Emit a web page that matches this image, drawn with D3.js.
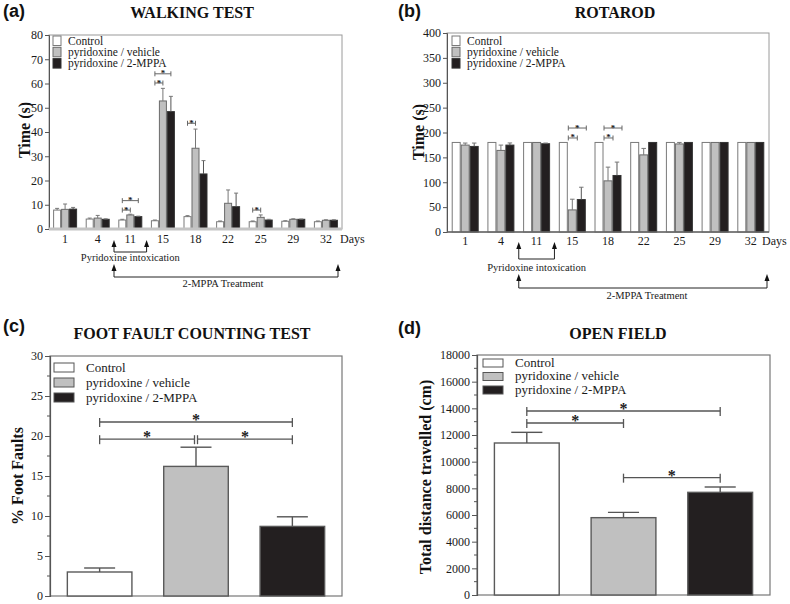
<!DOCTYPE html>
<html><head><meta charset="utf-8">
<script src="https://cdn.jsdelivr.net/npm/d3@7"></script>
<style>body{margin:0;background:#fff}svg{display:block}</style>
</head><body>
<svg id="chart" width="790" height="604"></svg>
<script>
// ---------- DATA ----------
const days = ["1","4","11","15","18","22","25","29","32"];
const seriesNames = ["Control","pyridoxine / vehicle","pyridoxine / 2-MPPA"];

// (a) Walking test, time (s): mean and SEM
const walkControl     = [7.8, 4.1, 3.7, 3.4, 5.1, 3.0, 3.0, 3.2, 3.0];
const walkControlSem  = [0.7, 0.4, 0.3, 0.3, 0.4, 0.3, 0.3, 0.2, 0.3];
const walkVehicle     = [8.1, 4.5, 5.8, 52.8, 33.3, 10.6, 4.8, 4.0, 3.6];
const walkVehicleSem  = [2.2, 1.1, 0.3, 5.2, 7.9, 5.5, 1.0, 0.2, 0.2];
const walkMppa        = [8.2, 4.0, 5.1, 48.4, 22.7, 9.2, 3.7, 4.0, 3.6];
const walkMppaSem     = [0.7, 0.2, 0.2, 6.3, 5.5, 5.6, 0.3, 0.1, 0.2];
const walkTicks = [0,10,20,30,40,50,60,70,80];
const walkSig = [ // [day, fromSeries, toSeries, bracket height]
  ["11",0,1,7.8], ["11",0,2,11.7], ["15",0,1,60.2], ["15",0,2,64],
  ["18",0,1,43.6], ["25",0,1,7.8]
];

// (b) Rotarod, time (s)
const rotControl     = [180, 180, 180, 180, 180, 180, 180, 180, 180];
const rotControlSem  = [0, 0, 0, 0, 0, 0, 0, 0, 0];
const rotVehicle     = [174.7, 164, 180, 44.4, 102.8, 155, 177, 180, 180];
const rotVehicleSem  = [4.1, 10.7, 0, 21.5, 27.6, 13, 3, 0, 0];
const rotMppa        = [172, 174.7, 177.4, 65.2, 113.6, 180, 180, 180, 180];
const rotMppaSem     = [6.8, 4.3, 1.4, 24.8, 26.9, 0, 0, 0, 0];
const rotTicks = [0,50,100,150,200,250,300,350,400];
const rotSig = [["15",0,1,189], ["15",0,2,209], ["18",0,1,189], ["18",0,2,209]];

// (c) Foot fault counting test, % foot faults
const footMean = [3.0, 16.2, 8.7];
const footSem  = [0.5, 2.4, 1.2];
const footTicks = [0,5,10,15,20,25,30];
const footSig = [[0,2,21.75], [0,1,19.6], [1,2,19.6]];

// (d) Open field, total distance travelled (cm)
const openMean = [11400, 5800, 7700];
const openSem  = [800, 400, 400];
const openTicks = [0,2000,4000,6000,8000,10000,12000,14000,16000,18000];
const openSig = [[0,2,13800], [0,1,12900], [1,2,8800]];

// ---------- DRAWING ----------
const SERIF = "'Liberation Serif','Times New Roman',serif";
const SANS = "'Liberation Sans',Arial,sans-serif";
const fills = ["#ffffff", "#c0c0c0", "#231f20"];
const strokes = ["#7a7a7a", "#6a6a6a", "#333333"];
const svg = d3.select("#chart");

function txt(g, x, y, s, size, opts = {}) {
  return g.append("text").attr("x", x).attr("y", y).text(s)
    .attr("font-family", opts.family || SERIF)
    .attr("font-size", size)
    .attr("font-weight", opts.bold ? "bold" : "normal")
    .attr("text-anchor", opts.anchor || "start")
    .attr("fill", opts.fill || "#1a1a1a");
}

function arrowUp(g, x, tipY, baseY) {
  g.append("line").attr("x1", x).attr("x2", x).attr("y1", tipY + 5).attr("y2", baseY)
    .attr("stroke", "#222").attr("stroke-width", 1);
  g.append("path").attr("d", `M${x},${tipY} L${x-2.5},${tipY+7} L${x+2.5},${tipY+7} Z`).attr("fill", "#111");
}

function groupedPanel(o) {
  const g = svg.append("g");
  const x = d3.scaleBand().domain(days).range([o.x0, o.x1]).paddingInner(o.padIn).paddingOuter(o.padOut);
  const xs = d3.scaleBand().domain([0,1,2]).range([0, x.bandwidth()]);
  const y = d3.scaleLinear().domain([o.ticks[0], o.ticks[o.ticks.length-1]]).range([o.yb, o.yt]);

  g.append("rect").attr("x", o.x0).attr("y", o.yt).attr("width", o.x1 - o.x0).attr("height", o.yb - o.yt)
    .attr("fill", "none").attr("stroke", "#9a9a9a").attr("stroke-width", 1);

  o.series.forEach((s, si) => {
    g.selectAll(null).data(days).enter().append("rect")
      .attr("x", d => x(d) + xs(si) + 0.5)
      .attr("y", (d, i) => y(s.mean[i]))
      .attr("width", xs.bandwidth() - 1)
      .attr("height", (d, i) => y(0) - y(s.mean[i]))
      .attr("fill", fills[si]).attr("stroke", strokes[si]).attr("stroke-width", 1);
    days.forEach((d, i) => {
      if (s.sem[i] <= 0) return;
      const cx = x(d) + xs(si) + xs.bandwidth() / 2;
      const cw = xs.bandwidth() * 0.25;
      g.append("line").attr("x1", cx).attr("x2", cx).attr("y1", y(s.mean[i])).attr("y2", y(s.mean[i] + s.sem[i]))
        .attr("stroke", si === 2 ? "#555" : "#777").attr("stroke-width", 1);
      g.append("line").attr("x1", cx - cw).attr("x2", cx + cw).attr("y1", y(s.mean[i] + s.sem[i])).attr("y2", y(s.mean[i] + s.sem[i]))
        .attr("stroke", "#777").attr("stroke-width", 1);
    });
  });

  const yAxis = d3.axisLeft(y).tickValues(o.ticks).tickSize(4).tickPadding(2);
  const ya = g.append("g").attr("transform", `translate(${o.x0},0)`).call(yAxis);
  ya.select(".domain").attr("stroke", "#555");
  ya.selectAll(".tick line").attr("stroke", "#555");
  ya.selectAll("text").attr("font-family", SERIF).attr("font-size", 12).attr("fill", "#1a1a1a");
  g.append("line").attr("x1", o.x0).attr("x2", o.x1).attr("y1", o.yb).attr("y2", o.yb)
    .attr("stroke", o.baseColor).attr("stroke-width", o.baseWidth);

  days.forEach(d => txt(g, x(d) + x.bandwidth()/2, o.dayY, d, 12, {anchor: "middle"}));
  txt(g, o.daysX, o.dayY, "Days", 12);

  o.sig.forEach(([d, a, b, v]) => {
    const xa = x(d) + xs(a) + xs.bandwidth()/2 + o.sigShift;
    const xb = x(d) + xs(b) + xs.bandwidth()/2 + o.sigShift;
    const yy = y(v);
    g.append("line").attr("x1", xa).attr("x2", xb).attr("y1", yy).attr("y2", yy).attr("stroke", "#666").attr("stroke-width", 1);
    [xa, xb].forEach(xx => g.append("line").attr("x1", xx).attr("x2", xx).attr("y1", yy - 2.5).attr("y2", yy + 2.5).attr("stroke", "#666").attr("stroke-width", 1));
    txt(g, (xa + xb)/2, yy + 2.5, "*", 9, {anchor: "middle", bold: true});
  });

  seriesNames.forEach((n, i) => {
    g.append("rect").attr("x", o.legX).attr("y", o.legY + i * 11.3).attr("width", 8).attr("height", 9.5)
      .attr("fill", fills[i]).attr("stroke", strokes[i]).attr("stroke-width", 1);
    txt(g, o.legX + 15, o.legY + 8.5 + i * 11.3, n, 11.5);
  });

  const between = (a, b) => (x(a) + x.bandwidth() + x(b)) / 2;
  const pxL = between("4", "11"), pxR = between("11", "15");
  arrowUp(g, pxL, o.ann1Tip, o.ann1Line);
  arrowUp(g, pxR, o.ann1Tip, o.ann1Line);
  g.append("line").attr("x1", pxL).attr("x2", pxR).attr("y1", o.ann1Line).attr("y2", o.ann1Line).attr("stroke", "#222");
  txt(g, (pxL + pxR)/2, o.ann1Text, "Pyridoxine intoxication", 10.5, {anchor: "middle"});
  const mR = o.x1 - o.annRightInset;
  arrowUp(g, pxL, o.ann2Tip, o.ann2Line);
  arrowUp(g, mR, o.ann2Tip, o.ann2Line);
  g.append("line").attr("x1", pxL).attr("x2", mR).attr("y1", o.ann2Line).attr("y2", o.ann2Line).attr("stroke", "#222");
  txt(g, o.ann2TextX, o.ann2Text, "2-MPPA Treatment", 10.5, {anchor: "middle"});

  txt(g, o.labX, o.labY, o.label, 18, {family: SANS, bold: true, fill: "#111"});
  txt(g, o.titleX, o.titleY, o.title, 16, {bold: true, anchor: "middle", fill: "#111"});
  txt(g, 0, 0, o.ylabel, 16, {bold: true, anchor: "middle", fill: "#111"})
    .attr("transform", `translate(${o.ylabX},${o.ylabY}) rotate(-90)`).attr("dy", "0.35em");
}

function simplePanel(o) {
  const g = svg.append("g");
  const x = d3.scaleBand().domain([0,1,2]).range([o.x0, o.x1]).paddingInner(0.33).paddingOuter(0.18);
  const y = d3.scaleLinear().domain([o.ticks[0], o.ticks[o.ticks.length-1]]).range([o.yb, o.yt]);

  g.append("rect").attr("x", o.x0).attr("y", o.yt).attr("width", o.x1 - o.x0).attr("height", o.yb - o.yt)
    .attr("fill", "none").attr("stroke", "#777").attr("stroke-width", 1.2);

  o.mean.forEach((m, i) => {
    g.append("rect").attr("x", x(i)).attr("y", y(m)).attr("width", x.bandwidth()).attr("height", y(0) - y(m))
      .attr("fill", fills[i]).attr("stroke", "#5a5a5a").attr("stroke-width", 1.4);
    const cx = x(i) + x.bandwidth()/2, top = y(m + o.sem[i]);
    g.append("line").attr("x1", cx).attr("x2", cx).attr("y1", y(m)).attr("y2", top).attr("stroke", "#555").attr("stroke-width", 1.4);
    g.append("line").attr("x1", cx - x.bandwidth()*0.24).attr("x2", cx + x.bandwidth()*0.24).attr("y1", top).attr("y2", top).attr("stroke", "#555").attr("stroke-width", 1.4);
  });

  const ya = g.append("g").attr("transform", `translate(${o.x0},0)`)
    .call(d3.axisLeft(y).tickValues(o.ticks).tickFormat(d3.format("d")).tickSize(5).tickPadding(2));
  ya.select(".domain").attr("stroke", "#555").attr("stroke-width", 1.2);
  ya.selectAll(".tick line").attr("stroke", "#555");
  ya.selectAll("text").attr("font-family", SERIF).attr("font-size", 12).attr("fill", "#1a1a1a");
  g.selectAll(null).data(o.minor).enter().append("line")
    .attr("x1", o.x0 - 3).attr("x2", o.x0).attr("y1", d => y(d)).attr("y2", d => y(d)).attr("stroke", "#555");

  o.sig.forEach(([a, b, v]) => {
    let xa = x(a) + x.bandwidth()/2, xb = x(b) + x.bandwidth()/2;
    if (o.gap) {
      if (o.sig.some(s => s[0] === b && s[2] === v)) xb -= o.gap;
      if (o.sig.some(s => s[1] === a && s[2] === v)) xa += o.gap;
    }
    const yy = y(v);
    g.append("line").attr("x1", xa).attr("x2", xb).attr("y1", yy).attr("y2", yy).attr("stroke", "#555").attr("stroke-width", 1.3);
    [xa, xb].forEach(xx => g.append("line").attr("x1", xx).attr("x2", xx).attr("y1", yy - 4).attr("y2", yy + 5).attr("stroke", "#555").attr("stroke-width", 1.3));
    txt(g, (xa + xb)/2, yy + 3, "*", 16, {anchor: "middle", bold: true, fill: "#222"});
  });

  seriesNames.forEach((n, i) => {
    g.append("rect").attr("x", o.legX).attr("y", o.legY + i * o.legStep).attr("width", o.legW).attr("height", o.legH)
      .attr("fill", fills[i]).attr("stroke", "#555").attr("stroke-width", 1);
    txt(g, o.legTextX, o.legY + o.legH - 0.5 + i * o.legStep, n, 13);
  });

  txt(g, o.labX, o.labY, o.label, 18, {family: SANS, bold: true, fill: "#111"});
  txt(g, o.titleX, o.titleY, o.title, 16, {bold: true, anchor: "middle", fill: "#111"});
  txt(g, 0, 0, o.ylabel, 16, {bold: true, anchor: "middle", fill: "#111"})
    .attr("transform", `translate(${o.ylabX},${o.ylabY}) rotate(-90)`).attr("dy", "0.35em");
}

groupedPanel({
  x0: 49, x1: 342, yt: 35, yb: 229, padIn: 0.264, padOut: 0.126, ticks: walkTicks,
  series: [{mean: walkControl, sem: walkControlSem}, {mean: walkVehicle, sem: walkVehicleSem}, {mean: walkMppa, sem: walkMppaSem}],
  sig: walkSig, sigShift: 0, baseColor: "#c4c4c4", baseWidth: 3,
  dayY: 243, daysX: 340, legX: 53, legY: 36,
  ann1Tip: 240, ann1Line: 252, ann1Text: 261, ann2Tip: 264, ann2Line: 277, ann2Text: 287, ann2TextX: 223, annRightInset: 4,
  label: "(a)", labX: 3, labY: 17, title: "WALKING TEST", titleX: 192, titleY: 18,
  ylabel: "Time (s)", ylabX: 24, ylabY: 130
});

groupedPanel({
  x0: 447, x1: 769, yt: 33, yb: 232, padIn: 0.244, padOut: 0.132, ticks: rotTicks,
  series: [{mean: rotControl, sem: rotControlSem}, {mean: rotVehicle, sem: rotVehicleSem}, {mean: rotMppa, sem: rotMppaSem}],
  sig: rotSig, sigShift: 5, baseColor: "#666", baseWidth: 1.5,
  dayY: 245, daysX: 762, legX: 452, legY: 36,
  ann1Tip: 242, ann1Line: 259, ann1Text: 271, ann2Tip: 274, ann2Line: 288, ann2Text: 299, ann2TextX: 647, annRightInset: 2,
  label: "(b)", labX: 398, labY: 17, title: "ROTAROD", titleX: 615, titleY: 18,
  ylabel: "Time (s)", ylabX: 418, ylabY: 132
});

simplePanel({
  x0: 50, x1: 342, yt: 356, yb: 596, ticks: footTicks, minor: [2.5,7.5,12.5,17.5,22.5,27.5],
  mean: footMean, sem: footSem, sig: footSig, gap: 1.5,
  legX: 54, legY: 363, legW: 20, legH: 9, legStep: 15, legTextX: 86,
  label: "(c)", labX: 3, labY: 332, title: "FOOT FAULT COUNTING TEST", titleX: 192, titleY: 339,
  ylabel: "% Foot Faults", ylabX: 17, ylabY: 476
});

simplePanel({
  x0: 477, x1: 770, yt: 355, yb: 595, ticks: openTicks, minor: [1000,3000,5000,7000,9000,11000,13000,15000,17000],
  mean: openMean, sem: openSem, sig: openSig, gap: 0,
  legX: 483, legY: 359, legW: 20, legH: 8, legStep: 13.5, legTextX: 515,
  label: "(d)", labX: 398, labY: 334, title: "OPEN FIELD", titleX: 618, titleY: 339,
  ylabel: "Total distance travelled (cm)", ylabX: 425, ylabY: 477
});
</script>
</body></html>
